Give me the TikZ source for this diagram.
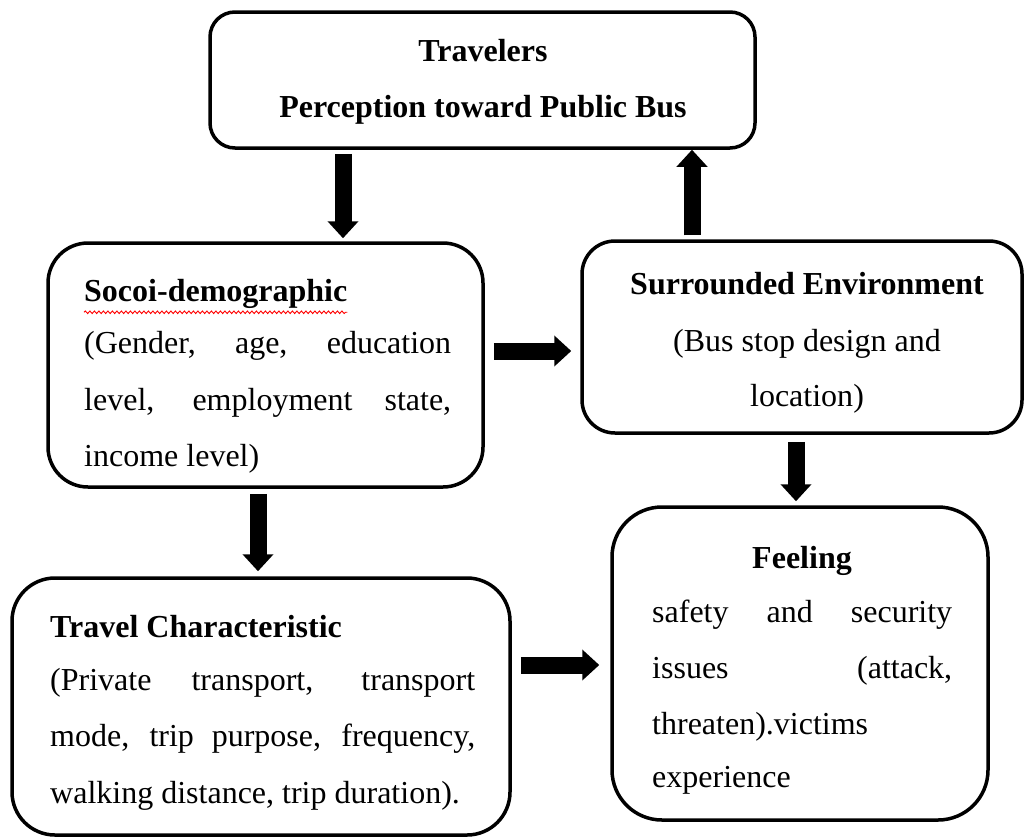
\documentclass[tikz,border=0pt]{standalone}
\usepackage{fontspec}
\setmainfont{Liberation Serif}
\usetikzlibrary{arrows.meta,decorations.pathmorphing}
\begin{document}
\begin{tikzpicture}[x=1pt,y=-1pt,
  box/.style={draw=black, line width=3.5pt, fill=white, inner sep=0pt},
  barrow/.style={line width=17pt, -{Triangle[width=30pt,length=17pt]}},
  txt/.style={inner sep=0pt, font=\fontsize{32}{38}\selectfont},
  hd/.style={txt, font=\fontsize{32}{38}\selectfont\bfseries},
  squiggle/.style={draw=red, line width=0.9pt, decorate,
    decoration={snake, amplitude=1.3pt, segment length=4.5pt}}
]
\useasboundingbox (0,0) rectangle (1024,838);
\fill[white] (0,0) rectangle (1024,838);

% boxes
\node[box, rounded corners=25pt, minimum width=545pt, minimum height=136pt] (top) at (482.5,80) {};
\node[box, rounded corners=40pt, minimum width=435pt, minimum height=244pt] (socio) at (265.5,365) {};
\node[box, rounded corners=33pt, minimum width=440pt, minimum height=192pt] (surr) at (802,337) {};
\node[box, rounded corners=43pt, minimum width=498pt, minimum height=257pt] (travel) at (261,706.5) {};
\node[box, rounded corners=50pt, minimum width=376pt, minimum height=313pt] (feel) at (800,663.5) {};

% top text
\node[hd, anchor=base] (t1) at (483,61) {Travelers};
\node[hd, anchor=base] (t2) at (483,117) {Perception toward Public Bus};

% socio text
\node[hd, anchor=base west] (s0) at (84,301) {Socoi-demographic};
\draw[squiggle] (s0.south west) ++(0,4) coordinate (sqa) -- (s0.south east |- sqa);
\node[txt, anchor=base west] (s1) at (84,353) {\makebox[367pt][s]{(Gender, age, education}};
\node[txt, anchor=base west] (s2) at (84,410) {\makebox[367pt][s]{level, employment state,}};
\node[txt, anchor=base west] (s3) at (84,466) {income level)};

% surrounded text
\node[hd, anchor=base] (e0) at (807,294) {Surrounded Environment};
\node[txt, anchor=base] (e1) at (807,351) {(Bus stop design and};
\node[txt, anchor=base] (e2) at (807,406) {location)};

% travel text
\node[hd, anchor=base west] (r0) at (50,637) {Travel Characteristic};
\node[txt, anchor=base west] (r1) at (50,690) {\makebox[425pt][s]{(Private transport, transport}};
\node[txt, anchor=base west] (r2) at (50,746) {\makebox[425pt][s]{mode, trip purpose, frequency,}};
\node[txt, anchor=base west] (r3) at (50,803) {walking distance, trip duration).};

% feeling text
\node[hd, anchor=base] (f0) at (802,568) {Feeling};
\node[txt, anchor=base west] (f1) at (652,622) {\makebox[300pt][s]{safety and security}};
\node[txt, anchor=base west] (f2) at (652,678) {\makebox[300pt][s]{issues (attack,}};
\node[txt, anchor=base west] (f3) at (652,734) {threaten).victims};
\node[txt, anchor=base west] (f4) at (652,787) {experience};

% arrows
\draw[barrow, shorten <=4pt, shorten >=3pt] ([xshift=-139.5pt]top.south) -- ([xshift=77.5pt]socio.north);
\draw[barrow, shorten <=4pt, shorten >=0pt] ([xshift=-110pt]surr.north) -- ([xshift=209.5pt]top.south);
\draw[barrow, shorten <=9pt, shorten >=9pt] ([yshift=14pt]socio.east) -- ([yshift=-14pt]surr.west);
\draw[barrow, shorten <=7pt, shorten >=4pt] ([xshift=-6pt]surr.south) -- ([xshift=-4pt]feel.north);
\draw[barrow, shorten <=5pt, shorten >=5pt] ([xshift=-7.5pt]socio.south) -- ([xshift=-3pt]travel.north);
\draw[barrow, shorten <=9pt, shorten >=11pt] ([yshift=41.5pt]travel.east) -- ([yshift=-1.5pt]feel.west);
\end{tikzpicture}
\end{document}
